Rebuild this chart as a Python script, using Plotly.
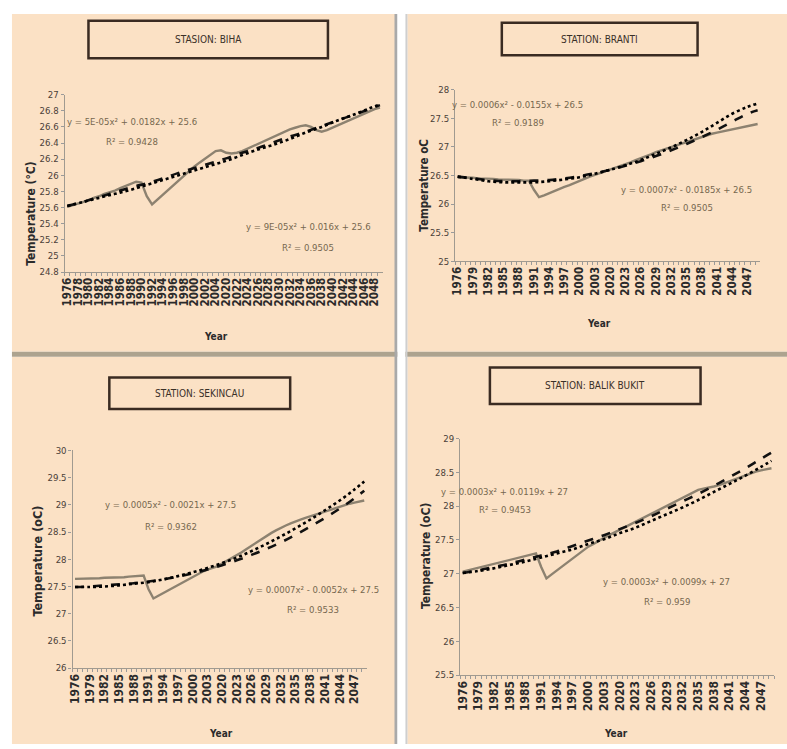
import plotly.graph_objects as go

W, H = 787, 749

# ---------------- data ----------------
YEARS = ["1976", "1977", "1978", "1979", "1980", "1981", "1982", "1983", "1984", "1985",
         "1986", "1987", "1988", "1989", "1990", "1991", "1992", "1993", "1994", "1995",
         "1996", "1997", "1998", "1999", "2000", "2001", "2002", "2003", "2004", "2005",
         "2020", "2021", "2022", "2023", "2024", "2025", "2026", "2027", "2028", "2029",
         "2030", "2031", "2032", "2033", "2034", "2035", "2036", "2037", "2038", "2039",
         "2040", "2041", "2042", "2043", "2044", "2045", "2046", "2047", "2048", "2049"]

TREND_YEARS = ["1976", "1979", "1982", "1985", "1988", "1991", "1994", "1997", "2000", "2003",
               "2020", "2023", "2026", "2029", "2032", "2035", "2038", "2041", "2044", "2047", "2049"]

LABELS_STEP2 = ["1976", "1978", "1980", "1982", "1984", "1986", "1988", "1990", "1992", "1994",
                "1996", "1998", "2000", "2002", "2004", "2020", "2022", "2024", "2026", "2028",
                "2030", "2032", "2034", "2036", "2038", "2040", "2042", "2044", "2046", "2048"]
LABELS_STEP3 = ["1976", "1979", "1982", "1985", "1988", "1991", "1994", "1997", "2000", "2003",
                "2020", "2023", "2026", "2029", "2032", "2035", "2038", "2041", "2044", "2047"]

# Station BIHA
biha_obs = [25.61, 25.63, 25.65, 25.67, 25.69, 25.72, 25.74, 25.77, 25.79, 25.81,
            25.84, 25.87, 25.90, 25.92, 25.91, 25.74, 25.64, 25.70, 25.76, 25.82,
            25.88, 25.94, 26.00, 26.06, 26.11, 26.16, 26.21, 26.26, 26.30, 26.31,
            26.28, 26.27, 26.28, 26.30, 26.33, 26.36, 26.39, 26.42, 26.45, 26.49,
            26.52, 26.54, 26.57, 26.59, 26.61, 26.62, 26.60, 26.56, 26.54, 26.56,
            26.59, 26.62, 26.65, 26.68, 26.71, 26.74, 26.77, 26.79, 26.82, 26.84]
biha_trend1 = [25.62, 25.67, 25.73, 25.79, 25.85, 25.90, 25.96, 26.03, 26.09, 26.15,
               26.21, 26.28, 26.34, 26.41, 26.48, 26.54, 26.61, 26.68, 26.75, 26.82, 26.87]
biha_trend2 = [25.62, 25.67, 25.72, 25.77, 25.82, 25.88, 25.94, 26.00, 26.06, 26.12,
               26.18, 26.25, 26.32, 26.38, 26.45, 26.53, 26.60, 26.68, 26.75, 26.83, 26.88]

# Station BRANTI
branti_obs = [26.47, 26.47, 26.46, 26.46, 26.45, 26.45, 26.44, 26.44, 26.43, 26.43,
              26.42, 26.42, 26.42, 26.41, 26.41, 26.25, 26.12, 26.15, 26.19, 26.22,
              26.26, 26.30, 26.33, 26.37, 26.41, 26.45, 26.48, 26.51, 26.54, 26.57,
              26.60, 26.63, 26.66, 26.70, 26.73, 26.77, 26.80, 26.84, 26.87, 26.91,
              26.94, 26.97, 27.00, 27.03, 27.06, 27.09, 27.12, 27.15, 27.18, 27.20,
              27.23, 27.25, 27.27, 27.29, 27.31, 27.33, 27.35, 27.37, 27.38, 27.40]
branti_trend1 = [26.48, 26.45, 26.42, 26.40, 26.40, 26.41, 26.42, 26.45, 26.49, 26.54,
                 26.60, 26.67, 26.75, 26.84, 26.94, 27.05, 27.17, 27.30, 27.44, 27.58, 27.64]
branti_trend2 = [26.48, 26.44, 26.40, 26.38, 26.38, 26.38, 26.40, 26.43, 26.47, 26.53,
                 26.60, 26.68, 26.77, 26.88, 26.99, 27.12, 27.26, 27.42, 27.58, 27.70, 27.76]

# Station SEKINCAU
sekincau_obs = [27.64, 27.64, 27.64, 27.65, 27.65, 27.65, 27.66, 27.66, 27.66, 27.67,
                27.67, 27.68, 27.69, 27.70, 27.70, 27.45, 27.28, 27.33, 27.38, 27.43,
                27.48, 27.53, 27.58, 27.63, 27.68, 27.73, 27.77, 27.81, 27.84, 27.87,
                27.92, 27.97, 28.02, 28.07, 28.13, 28.19, 28.25, 28.31, 28.37, 28.42,
                28.48, 28.53, 28.58, 28.62, 28.66, 28.70, 28.73, 28.76, 28.79, 28.82,
                28.85, 28.88, 28.91, 28.94, 28.97, 29.00, 29.02, 29.04, 29.06, 29.08]
sekincau_trend1 = [27.49, 27.50, 27.52, 27.54, 27.56, 27.59, 27.63, 27.68, 27.74, 27.81,
                   27.89, 27.98, 28.08, 28.19, 28.31, 28.45, 28.60, 28.76, 28.93, 29.12, 29.26]
sekincau_trend2 = [27.49, 27.49, 27.50, 27.52, 27.55, 27.58, 27.63, 27.69, 27.76, 27.84,
                   27.93, 28.03, 28.15, 28.28, 28.42, 28.57, 28.73, 28.90, 29.08, 29.28, 29.43]

# Station BALIK BUKIT
balik_obs = [27.03, 27.05, 27.07, 27.09, 27.11, 27.13, 27.15, 27.17, 27.19, 27.21,
             27.23, 27.25, 27.27, 27.29, 27.30, 27.10, 26.93, 26.99, 27.05, 27.11,
             27.17, 27.23, 27.29, 27.35, 27.40, 27.44, 27.49, 27.53, 27.57, 27.61,
             27.65, 27.69, 27.73, 27.77, 27.81, 27.85, 27.89, 27.93, 27.97, 28.01,
             28.05, 28.09, 28.13, 28.17, 28.21, 28.24, 28.26, 28.27, 28.29, 28.31,
             28.34, 28.37, 28.40, 28.43, 28.46, 28.49, 28.51, 28.53, 28.55, 28.56]
balik_trend1 = [27.01, 27.05, 27.10, 27.15, 27.21, 27.27, 27.33, 27.41, 27.49, 27.57,
                27.66, 27.75, 27.85, 27.96, 28.07, 28.18, 28.30, 28.43, 28.56, 28.70, 28.79]
balik_trend2 = [27.01, 27.04, 27.08, 27.13, 27.18, 27.24, 27.30, 27.36, 27.44, 27.51,
                27.60, 27.68, 27.78, 27.88, 27.98, 28.09, 28.21, 28.33, 28.45, 28.58, 28.67]

# ---------------- styling helpers ----------------
PEACH = "#FBE1C5"
OBS_COLOR = "#8d8270"
TXT = "#3a3028"
EQ_COLOR = "#76684f"
FONT = "DejaVu Sans Condensed"


def px_x(v):
    return v / W


def px_y(v):
    return 1 - v / H


panels = [
    dict(name="STASION: BIHA", obs=biha_obs, t1=biha_trend1, t2=biha_trend2,
         xdom=(60, 380), ydom=(270, 90), yr=(24.8, 27), dtick=0.2, labels=LABELS_STEP2, xfs=11.5,
         box=(84, 15, 325, 53), ytitle="Temperature (°C)", ytx=(26, 210), ytfs=12, yearxy=(212, 335),
         eqs=[("y = 5E-05x² + 0.0182x + 25.6", 128, 117), ("R² = 0.9428", 128, 138),
              ("y = 9E-05x² + 0.016x + 25.6", 305, 224), ("R² = 0.9505", 305, 245)]),
    dict(name="STATION: BRANTI", obs=branti_obs, t1=branti_trend1, t2=branti_trend2,
         xdom=(453, 760), ydom=(259, 85), yr=(25, 28), dtick=0.5, labels=LABELS_STEP3, xfs=11.5,
         box=(500, 17, 697, 50), ytitle="Temperature oC", ytx=(422, 182), ytfs=11.5, yearxy=(598, 322),
         eqs=[("y = 0.0006x² - 0.0155x + 26.5", 516, 100), ("R² = 0.9189", 516, 118),
              ("y = 0.0007x² - 0.0185x + 26.5", 686, 186), ("R² = 0.9505", 686, 205)]),
    dict(name="STATION: SEKINCAU", obs=sekincau_obs, t1=sekincau_trend1, t2=sekincau_trend2,
         xdom=(68, 364), ydom=(672, 451), yr=(26, 30), dtick=0.5, labels=LABELS_STEP3, xfs=12,
         box=(105, 377, 287, 409), ytitle="Temperature (oC)", ytx=(33, 563), ytfs=12.5, yearxy=(217, 738),
         eqs=[("y = 0.0005x² - 0.0021x + 27.5", 167, 506), ("R² = 0.9362", 167, 528),
              ("y = 0.0007x² - 0.0052x + 27.5", 310, 592), ("R² = 0.9533", 310, 613)]),
    dict(name="STATION: BALIK BUKIT", obs=balik_obs, t1=balik_trend1, t2=balik_trend2,
         xdom=(458, 774), ydom=(679, 439), yr=(25.5, 29), dtick=0.5, labels=LABELS_STEP3, xfs=12,
         box=(488, 367, 700, 404), ytitle="Temperature (oC)", ytx=(423, 558), ytfs=12, yearxy=(615, 738),
         eqs=[("y = 0.0003x² + 0.0119x + 27", 503, 493), ("R² = 0.9453", 503, 511),
              ("y = 0.0003x² + 0.0099x + 27", 666, 584), ("R² = 0.959", 666, 604)]),
]

fig = go.Figure()
shapes = []
annotations = []

# panel backgrounds and separators
for (x0, y0, x1, y1) in [(7, 8, 393, 351), (405, 8, 787, 351), (7, 356, 393, 749), (405, 356, 787, 749)]:
    shapes.append(dict(type="rect", xref="paper", yref="paper", x0=px_x(x0), x1=px_x(x1),
                       y0=px_y(y1), y1=px_y(y0), fillcolor=PEACH, line=dict(width=0), layer="below"))
shapes.append(dict(type="rect", xref="paper", yref="paper", x0=px_x(7), x1=px_x(787),
                   y0=px_y(356), y1=px_y(351), fillcolor="#ada38f", line=dict(width=0), layer="below"))
shapes.append(dict(type="rect", xref="paper", yref="paper", x0=px_x(392), x1=px_x(395),
                   y0=0, y1=px_y(8), fillcolor="#a9a9a9", line=dict(width=0), layer="below"))
shapes.append(dict(type="rect", xref="paper", yref="paper", x0=px_x(395), x1=px_x(403),
                   y0=0, y1=px_y(8), fillcolor="#ffffff", line=dict(width=0), layer="below"))
shapes.append(dict(type="rect", xref="paper", yref="paper", x0=px_x(403), x1=px_x(405),
                   y0=0, y1=px_y(8), fillcolor="#cfcfcf", line=dict(width=0), layer="below"))

for i, p in enumerate(panels):
    n = i + 1
    xa = "x" if n == 1 else f"x{n}"
    ya = "y" if n == 1 else f"y{n}"
    fig.add_trace(go.Scatter(x=YEARS, y=p["obs"], mode="lines", xaxis=xa, yaxis=ya,
                             line=dict(color=OBS_COLOR, width=2.4), showlegend=False))
    fig.add_trace(go.Scatter(x=TREND_YEARS, y=p["t1"], mode="lines", xaxis=xa, yaxis=ya,
                             line=dict(color="#111111", width=2.6, dash="dash", shape="spline"),
                             showlegend=False))
    fig.add_trace(go.Scatter(x=TREND_YEARS, y=p["t2"], mode="lines", xaxis=xa, yaxis=ya,
                             line=dict(color="#000000", width=2.6, dash="dot", shape="spline"),
                             showlegend=False))

    ticktext = [y if y in p["labels"] else "" for y in YEARS]
    xkey = "xaxis" if n == 1 else f"xaxis{n}"
    ykey = "yaxis" if n == 1 else f"yaxis{n}"
    fig.update_layout(**{
        xkey: dict(domain=[px_x(p["xdom"][0]), px_x(p["xdom"][1])], anchor=ya,
                   type="category", categoryorder="array", categoryarray=YEARS,
                   range=[-0.5, len(YEARS) - 0.5],
                   tickmode="array", tickvals=YEARS, ticktext=ticktext,
                   tickson="boundaries", ticks="outside", ticklen=3, tickcolor="#9a9a9a",
                   tickangle=-90, tickfont=dict(family=FONT, size=p["xfs"], color="#2b2b2b", weight="bold"),
                   showline=True, linecolor="#a09a90", linewidth=1.2,
                   showgrid=False, zeroline=False),
        ykey: dict(domain=[px_y(p["ydom"][0]), px_y(p["ydom"][1])], anchor=xa,
                   range=list(p["yr"]), dtick=p["dtick"], tick0=p["yr"][0],
                   ticks="outside", ticklen=3, tickcolor="#9a9a9a",
                   tickfont=dict(family=FONT, size=9.5, color="#4a4038"),
                   showline=True, linecolor="#a09a90", linewidth=1.2,
                   showgrid=False, zeroline=False),
    })

    bx0, by0, bx1, by1 = p["box"]
    shapes.append(dict(type="rect", xref="paper", yref="paper", x0=px_x(bx0), x1=px_x(bx1),
                       y0=px_y(by1), y1=px_y(by0), fillcolor=PEACH,
                       line=dict(color="#3a2b22", width=2.5), layer="below"))
    annotations.append(dict(text=p["name"], xref="paper", yref="paper",
                            x=px_x((bx0 + bx1) / 2), y=px_y((by0 + by1) / 2),
                            showarrow=False, xanchor="center", yanchor="middle",
                            font=dict(family=FONT, size=10, color=TXT)))
    annotations.append(dict(text=p["ytitle"], xref="paper", yref="paper",
                            x=px_x(p["ytx"][0]), y=px_y(p["ytx"][1]), textangle=-90,
                            showarrow=False, xanchor="center", yanchor="middle",
                            font=dict(family=FONT, size=p["ytfs"], color="#2b2b2b", weight="bold")))
    annotations.append(dict(text="Year", xref="paper", yref="paper",
                            x=px_x(p["yearxy"][0]), y=px_y(p["yearxy"][1]),
                            showarrow=False, xanchor="center", yanchor="middle",
                            font=dict(family=FONT, size=10, color="#2b2b2b", weight="bold")))
    for (t, ex, ey) in p["eqs"]:
        annotations.append(dict(text=t, xref="paper", yref="paper",
                                x=px_x(ex), y=px_y(ey), showarrow=False,
                                xanchor="center", yanchor="middle",
                                font=dict(family=FONT, size=9.5, color=EQ_COLOR)))

fig.update_layout(width=W, height=H, margin=dict(l=0, r=0, t=0, b=0),
                  paper_bgcolor="#ffffff", plot_bgcolor="rgba(0,0,0,0)",
                  shapes=shapes, annotations=annotations, showlegend=False)

fig.write_html("out.html")
